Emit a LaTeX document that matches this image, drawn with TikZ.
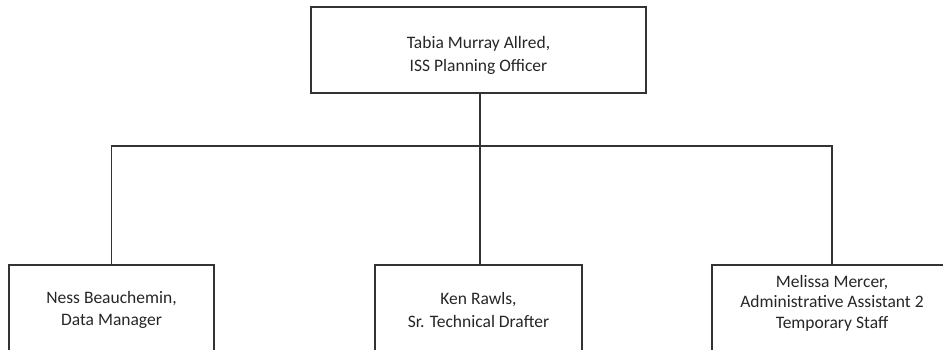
\documentclass[tikz,border=0pt]{standalone}
\usepackage{fontspec}
\setmainfont{Carlito}
\tikzset{
  postbox/.style={draw=black!80, line width=1.2pt, align=center, inner sep=0pt,
                  font=\fontsize{17.5}{22.5}\selectfont, text=black!85},
  wire/.style={draw=black!80, line width=1.2pt}
}
\begin{document}
\begin{tikzpicture}[x=1pt, y=-1pt]
      \useasboundingbox (0, 0) rectangle (943, 349);
      \clip (0, 0) rectangle (943, 349);
      \node (officer) [postbox, minimum width=335pt, minimum height=86pt, text height=45pt] at (478.5, 50)
            {Tabia Murray Allred,\\ISS Planning Officer};
      \node (data) [postbox, minimum width=205pt, minimum height=90pt] at (111.5, 310)
            {Ness Beauchemin,\\Data Manager};
      \node (drafter) [postbox, minimum width=207pt, minimum height=90pt] at (478.5, 310)
            {Ken Rawls,\\Sr. Technical Drafter};
      \node (assistant) [postbox, minimum width=240pt, minimum height=90pt, text depth=17pt] at (832, 310)
            {Melissa Mercer,\\[-2pt]Administrative Assistant 2\\[-2pt]Temporary Staff};
      \coordinate (bus) at (480, 146);
      \draw[wire] (officer.south -| bus) -- (bus);
      \draw[wire] (data.north) |- (bus) -| (assistant.north);
      \draw[wire] (drafter.north -| bus) -- (bus);
\end{tikzpicture}
\end{document}
